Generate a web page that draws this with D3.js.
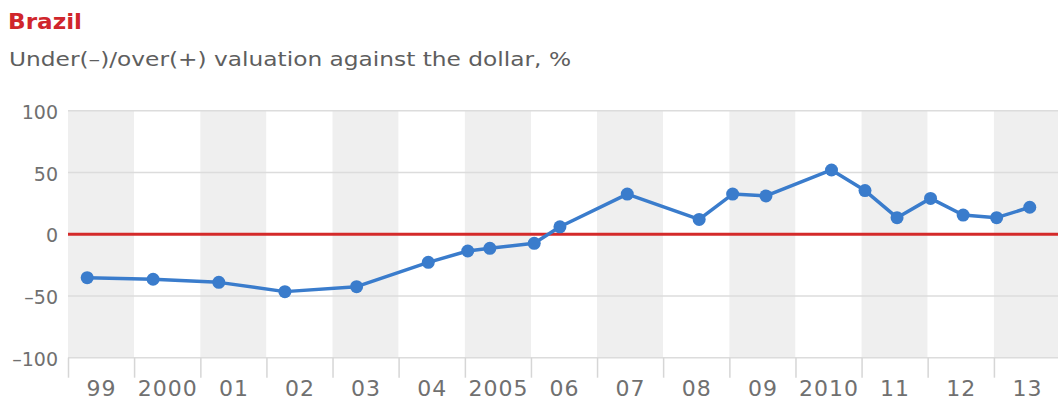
<!DOCTYPE html>
<html>
<head>
<meta charset="utf-8">
<script src="https://cdn.jsdelivr.net/npm/d3@7"></script>
<style>
  html, body { margin: 0; padding: 0; background: #fff; }
  svg { display: block; }
  text { font-family: "DejaVu Sans", Verdana, sans-serif; }
</style>
</head>
<body>
<svg id="chart" width="1058" height="402"></svg>
<script>
// Survey dates of each reading
const surveyDates = [
  "1999-04-17", "2000-04-15", "2001-04-13", "2002-04-13", "2003-05-14",
  "2004-06-13", "2005-01-17", "2005-05-19", "2006-01-19", "2006-06-10",
  "2007-06-17", "2008-07-18", "2009-01-19", "2009-07-22", "2010-07-19",
  "2011-01-20", "2011-07-16", "2012-01-17", "2012-07-15", "2013-01-16",
  "2013-07-18"
];
// Under(-)/over(+) valuation of the real against the dollar, %
const valuation = [
  -35.2, -36.5, -39.0, -46.5, -42.5,
  -22.8, -13.6, -11.4, -7.4, 6.0,
  32.5, 12.0, 32.5, 31.0, 52.0,
  35.3, 13.4, 29.0, 15.5, 13.4,
  21.8
];
// Year columns and their axis labels
const years = [1999, 2000, 2001, 2002, 2003, 2004, 2005, 2006, 2007, 2008, 2009, 2010, 2011, 2012, 2013];
const yearLabels = ["99", "2000", "01", "02", "03", "04", "2005", "06", "07", "08", "09", "2010", "11", "12", "13"];
const yTicks = [100, 50, 0, -50, -100];

const svg = d3.select("#chart");
const parse = d3.timeParse("%Y-%m-%d");
const points = surveyDates.map((d, i) => ({ date: parse(d), value: valuation[i] }));

const plotLeft = 68, plotRight = 1060, plotTop = 110.7, plotBottom = 357.7;

const x = d3.scaleTime()
  .domain([new Date(1999, 0, 1), new Date(2014, 0, 1)])
  .range([plotLeft, plotRight]);
const y = d3.scaleLinear().domain([-100, 100]).range([plotBottom, plotTop]);

// Title and subtitle
svg.append("text")
  .attr("x", 8).attr("y", 29)
  .attr("fill", "#d0262c")
  .attr("font-size", 22).attr("font-weight", "bold")
  .attr("textLength", 74).attr("lengthAdjust", "spacingAndGlyphs")
  .text("Brazil");
svg.append("text")
  .attr("x", 9).attr("y", 66)
  .attr("fill", "#5e5e5e")
  .attr("font-size", 20)
  .attr("textLength", 562).attr("lengthAdjust", "spacingAndGlyphs")
  .text("Under(\u2013)/over(+) valuation against the dollar, %");

// Alternating year bands
svg.append("g").selectAll("rect")
  .data(years)
  .join("rect")
  .attr("x", d => x(new Date(d, 0, 1)))
  .attr("y", plotTop)
  .attr("width", d => x(new Date(d + 1, 0, 1)) - x(new Date(d, 0, 1)))
  .attr("height", plotBottom - plotTop)
  .attr("fill", (d, i) => i % 2 === 0 ? "#efefef" : "#ffffff");

// Horizontal gridlines
svg.append("g").selectAll("line")
  .data(yTicks)
  .join("line")
  .attr("x1", plotLeft).attr("x2", plotRight)
  .attr("y1", d => y(d)).attr("y2", d => y(d))
  .attr("stroke", "#dcdcdc").attr("stroke-width", 1.5);

// Y axis labels
const yAxis = d3.axisLeft(y).tickValues(yTicks).tickSize(0).tickPadding(10)
  .tickFormat(d => d < 0 ? "\u2013" + Math.abs(d) : String(d));
svg.append("g")
  .attr("transform", `translate(${plotLeft},0)`)
  .call(yAxis)
  .call(g => g.select(".domain").remove())
  .call(g => g.selectAll("text")
    .attr("font-family", "DejaVu Sans, Verdana, sans-serif")
    .attr("font-size", 19).attr("fill", "#707070").attr("dy", "0.4em"));

// X axis: tick marks on year boundaries, labels centred in each column
const xAxis = d3.axisBottom(x)
  .tickValues(years.map(d => new Date(d, 0, 1)))
  .tickSize(20).tickFormat("");
svg.append("g")
  .attr("transform", `translate(0,${plotBottom})`)
  .call(xAxis)
  .call(g => g.select(".domain").remove())
  .call(g => g.selectAll("line").attr("stroke", "#d6d6d6").attr("stroke-width", 1.5));

svg.append("g").selectAll("text")
  .data(years)
  .join("text")
  .attr("x", d => (x(new Date(d, 0, 1)) + x(new Date(d + 1, 0, 1))) / 2 + 0.5)
  .attr("y", 395.5)
  .attr("text-anchor", "middle")
  .attr("font-size", 22).attr("letter-spacing", 1).attr("fill", "#707070")
  .text((d, i) => yearLabels[i]);

// Zero line
svg.append("line")
  .attr("x1", plotLeft).attr("x2", plotRight)
  .attr("y1", y(0)).attr("y2", y(0))
  .attr("stroke", "#d42a2a").attr("stroke-width", 3);

// Valuation series
const line = d3.line().x(d => x(d.date)).y(d => y(d.value));
svg.append("path")
  .datum(points)
  .attr("d", line)
  .attr("fill", "none")
  .attr("stroke", "#3a7ccc")
  .attr("stroke-width", 3.5)
  .attr("stroke-linejoin", "round");

svg.append("g").selectAll("circle")
  .data(points)
  .join("circle")
  .attr("cx", d => x(d.date))
  .attr("cy", d => y(d.value))
  .attr("r", 6.5)
  .attr("fill", "#3a7ccc");
</script>
</body>
</html>
